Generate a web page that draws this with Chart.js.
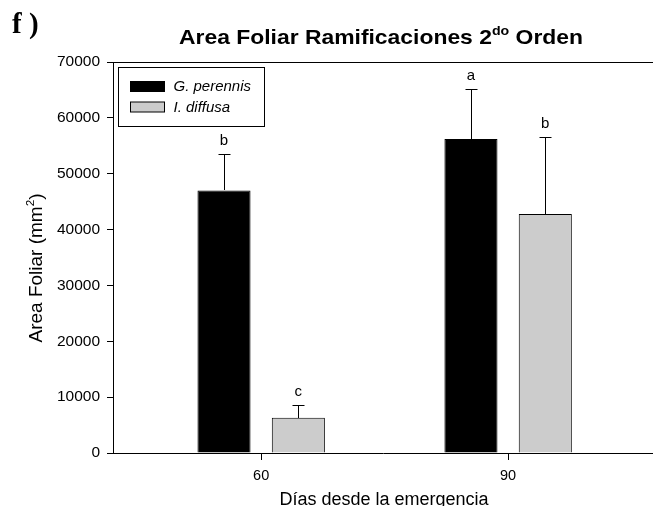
<!DOCTYPE html>
<html>
<head>
<meta charset="utf-8">
<script src="https://cdn.jsdelivr.net/npm/chart.js@4"></script>
<style>
  html, body { margin: 0; padding: 0; background: #fff; overflow: hidden; }
  canvas { display: block; }
</style>
</head>
<body>
<canvas id="grafico" width="653" height="506"></canvas>
<script>
// Días desde la emergencia (categorías del eje X)
const dias = [60, 90];
// Especies
const especies = ['G. perennis', 'I. diffusa'];
// Área foliar media (mm²) y error estándar
const gPerennis = [47000, 56200];
const gPerennisEE = [6500, 9000];
const iDiffusa = [6300, 42800];
const iDiffusaEE = [2350, 13700];
// Letras de comparación de medias
const letrasG = ['b', 'a'];
const letrasI = ['c', 'b'];
// Eje Y
const yMin = 0, yMax = 70000, yPaso = 10000;

const FUENTE = '"Liberation Sans", Arial, Helvetica, sans-serif';

function puntos(valores) {
  return dias.map((d, i) => ({ x: d, y: valores[i] }));
}

// Texto con superíndice: partes = [[texto, esSuperindice], ...]
function anchoPartes(ctx, partes, tam, peso) {
  let w = 0;
  partes.forEach(([t, sup]) => {
    ctx.font = `${peso} ${sup ? tam * 0.62 : tam}px ${FUENTE}`;
    w += ctx.measureText(t).width;
  });
  return w;
}
function dibujarPartes(ctx, partes, x, y, tam, peso) {
  partes.forEach(([t, sup]) => {
    ctx.font = `${peso} ${sup ? tam * 0.62 : tam}px ${FUENTE}`;
    ctx.fillText(t, x, sup ? y - tam * 0.42 : y);
    x += ctx.measureText(t).width;
  });
}

const decoracion = {
  id: 'decoracion',
  afterDatasetsDraw(chart) {
    const { ctx, chartArea: a, scales } = chart;
    const ys = scales.y;
    ctx.save();
    ctx.strokeStyle = '#000';
    ctx.fillStyle = '#000';
    ctx.lineWidth = 1;

    // línea superior del marco
    const yTop = Math.round(a.top) + 0.5;
    ctx.beginPath();
    ctx.moveTo(a.left, yTop);
    ctx.lineTo(a.right, yTop);
    ctx.stroke();

    // barras de error y letras
    chart.data.datasets.forEach((ds, di) => {
      const meta = chart.getDatasetMeta(di);
      meta.data.forEach((barra, i) => {
        const v = ds.data[i].y;
        const tope = ys.getPixelForValue(v + ds.errores[i]);
        const xc = Math.round(barra.x) + 0.5;
        const yt = Math.round(tope) + 0.5;
        ctx.beginPath();
        ctx.moveTo(xc, Math.round(barra.y));
        ctx.lineTo(xc, yt);
        ctx.moveTo(xc - 6, yt);
        ctx.lineTo(xc + 6, yt);
        ctx.stroke();
        ctx.font = `15px ${FUENTE}`;
        ctx.textAlign = 'center';
        ctx.textBaseline = 'alphabetic';
        ctx.fillText(ds.letras[i], barra.x, tope - 9);
      });
    });
    ctx.restore();
  },
  afterDraw(chart) {
    const { ctx, chartArea: a, scales } = chart;
    const xs = scales.x;
    ctx.save();
    ctx.fillStyle = '#000';
    ctx.strokeStyle = '#000';
    ctx.lineWidth = 1;

    // marcas del eje X
    dias.forEach(d => {
      const px = Math.round(xs.getPixelForValue(d));
      ctx.fillRect(px, Math.round(a.bottom), 1, 7);
    });

    // leyenda
    const lx = a.left + 5.5, ly = a.top + 5.5, lw = 146, lh = 59;
    ctx.fillStyle = '#fff';
    ctx.fillRect(lx, ly, lw, lh);
    ctx.strokeRect(lx, ly, lw, lh);
    chart.data.datasets.forEach((ds, i) => {
      const fy = ly + 14 + i * 20.5;
      ctx.fillStyle = ds.backgroundColor;
      ctx.fillRect(lx + 12, fy, 34, 10);
      ctx.strokeStyle = '#000';
      ctx.strokeRect(lx + 12, fy, 34, 10);
      ctx.fillStyle = '#000';
      ctx.font = `italic 15px ${FUENTE}`;
      ctx.textAlign = 'left';
      ctx.textBaseline = 'middle';
      ctx.fillText(ds.label, lx + 55, fy + 5.5);
    });

    // título (ligeramente ensanchado)
    ctx.textAlign = 'left';
    ctx.textBaseline = 'alphabetic';
    const titulo = [['Area Foliar Ramificaciones 2', false], ['do', true], [' Orden', false]];
    const ancho = 1.09;
    const wt = anchoPartes(ctx, titulo, 21, 'bold') * ancho;
    ctx.save();
    ctx.translate(381 - wt / 2, 43.5);
    ctx.scale(ancho, 1);
    dibujarPartes(ctx, titulo, 0, 0, 21, 'bold');
    ctx.restore();

    // rótulo del panel
    ctx.font = `bold 29px "Liberation Serif", "Times New Roman", serif`;
    ctx.fillText('f )', 12, 33);

    // título del eje X
    ctx.font = `18px ${FUENTE}`;
    ctx.textAlign = 'center';
    ctx.fillText('Días desde la emergencia', 384, 504.5);

    // título del eje Y
    ctx.save();
    ctx.translate(42, 268);
    ctx.rotate(-Math.PI / 2);
    ctx.textAlign = 'left';
    const ty = [['Area Foliar (mm', false], ['2', true], [')', false]];
    const wy = anchoPartes(ctx, ty, 19, 'normal');
    dibujarPartes(ctx, ty, -wy / 2, 0, 19, 'normal');
    ctx.restore();

    ctx.restore();
  }
};

new Chart(document.getElementById('grafico'), {
  type: 'bar',
  data: {
    datasets: [
      {
        label: especies[0],
        data: puntos(gPerennis),
        errores: gPerennisEE,
        letras: letrasG,
        backgroundColor: '#000000',
        borderColor: '#000000',
        borderWidth: 1,
        borderSkipped: 'bottom'
      },
      {
        label: especies[1],
        data: puntos(iDiffusa),
        errores: iDiffusaEE,
        letras: letrasI,
        backgroundColor: '#cccccc',
        borderColor: '#000000',
        borderWidth: 1,
        borderSkipped: 'bottom'
      }
    ]
  },
  options: {
    responsive: false,
    animation: false,
    devicePixelRatio: 1,
    barPercentage: 0.714,
    categoryPercentage: 0.602,
    layout: { padding: { top: 62, left: 0, right: 0, bottom: 0 } },
    plugins: {
      legend: { display: false },
      title: { display: false },
      tooltip: { enabled: false }
    },
    scales: {
      x: {
        type: 'linear',
        min: 42,
        max: 107.6,
        offset: false,
        afterBuildTicks: s => { s.ticks = dias.map(v => ({ value: v })); },
        afterFit: s => { s.height = 53; },
        grid: { display: false, drawTicks: true, tickLength: 6 },
        border: { display: true, color: '#000', width: 1 },
        ticks: {
          color: '#000',
          font: { family: FUENTE, size: 14.5 },
          padding: 8,
          maxRotation: 0,
          callback: v => String(v)
        }
      },
      y: {
        min: yMin,
        max: yMax,
        afterFit: s => { s.width = 113; },
        grid: { display: true, drawOnChartArea: false, drawTicks: true, tickLength: 6, color: '#000', lineWidth: 1 },
        border: { display: true, color: '#000', width: 1 },
        ticks: {
          stepSize: yPaso,
          color: '#000',
          font: { family: FUENTE, size: 15.5 },
          padding: 7,
          callback: v => String(v)
        }
      }
    }
  },
  plugins: [decoracion]
});
</script>
</body>
</html>
